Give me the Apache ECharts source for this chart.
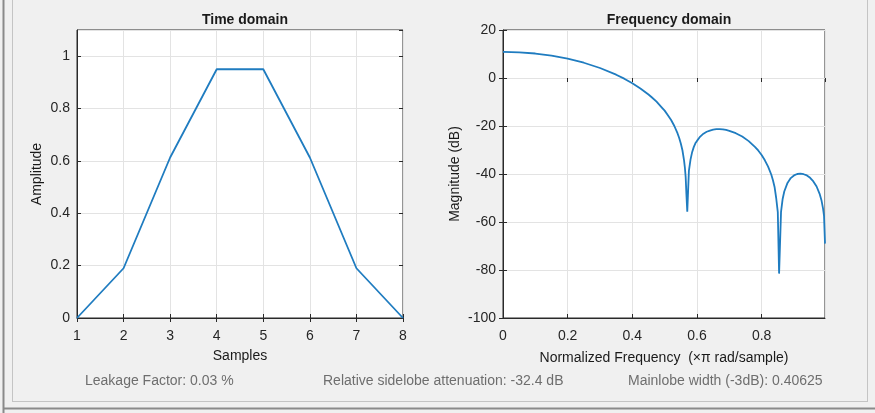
<!DOCTYPE html>
<html>
<head>
<meta charset="utf-8">
<script src="https://cdn.jsdelivr.net/npm/echarts@6/dist/echarts.min.js"></script>
<style>
  html, body { margin: 0; padding: 0; background: #f0f0f0; }
  #chart { width: 875px; height: 413px; }
</style>
</head>
<body>
<div id="chart"></div>
<script>
// time domain window samples
const samples = [1, 2, 3, 4, 5, 6, 7, 8];
const amplitude = [0, 0.19, 0.613, 0.95, 0.95, 0.613, 0.19, 0];

// frequency response
const normFreq = [0, 0.05, 0.1, 0.15, 0.2, 0.25, 0.3, 0.35, 0.375, 0.4, 0.425, 0.45, 0.46, 0.475, 0.49, 0.5,
  0.51, 0.52, 0.53, 0.54, 0.545, 0.55, 0.555, 0.56, 0.5625, 0.565, 0.5675, 0.57,
  0.575, 0.58, 0.585, 0.59, 0.595, 0.6, 0.61, 0.62, 0.63, 0.64, 0.65, 0.66, 0.67, 0.68, 0.69, 0.7,
  0.72, 0.74, 0.76, 0.78, 0.79, 0.8, 0.81, 0.82, 0.83, 0.835, 0.84, 0.845, 0.85, 0.854,
  0.86, 0.865, 0.87, 0.88, 0.89, 0.9, 0.91, 0.92, 0.93, 0.94, 0.95, 0.96, 0.97, 0.98, 0.985, 0.99, 0.993, 0.996];
const magnitudeDb = [10.9, 10.7, 10.2, 9.3, 8.05, 6.36, 4.17, 1.38, -0.28, -2.18, -4.35, -6.88, -8.01, -9.85, -12.1, -13.6,
  -15.5, -17.5, -20.0, -23.1, -25.0, -27.3, -30.1, -34.3, -37.2, -41.2, -48.9, -55.7,
  -38.7, -34.0, -30.9, -28.8, -27.2, -26.2, -24.4, -23.2, -22.4, -21.9, -21.5, -21.3, -21.3, -21.4, -21.65, -22.0,
  -23.0, -24.4, -26.3, -28.8, -30.3, -32.1, -34.3, -36.9, -40.3, -42.6, -45.4, -50.0, -55.9, -81.5,
  -55.8, -50.4, -47.3, -43.7, -41.7, -40.6, -40.0, -39.85, -40.1, -40.6, -41.6, -43.1, -45.2, -48.5, -50.9, -54.4, -57.5, -69];

const statusTexts = ['Leakage Factor: 0.03 %', 'Relative sidelobe attenuation: -32.4 dB', 'Mainlobe width (-3dB): 0.40625'];

const font = 'Liberation Sans, Arial, sans-serif';
const lineColor = '#1f7cc0';
const gridColor = '#e3e3e3';
const boxColor = '#2a2a2a';

const chart = echarts.init(document.getElementById('chart'));

function mainAxis(pos, gridIndex, extra) {
  return Object.assign({
    type: 'value',
    gridIndex: gridIndex,
    position: pos,
    axisLine: { show: true, onZero: false, lineStyle: { color: boxColor, width: 1 } },
    axisTick: { show: true, inside: true, length: 4, lineStyle: { color: boxColor } },
    splitLine: { show: true, lineStyle: { color: gridColor, width: 1 } },
    nameLocation: 'middle',
    nameTextStyle: { color: '#1a1a1a', fontFamily: font, fontSize: 14 }
  }, extra);
}

function mirrorAxis(pos, gridIndex, extra) {
  return Object.assign({
    type: 'value',
    gridIndex: gridIndex,
    position: pos,
    axisLine: { show: false },
    axisTick: { show: true, inside: true, length: 4, lineStyle: { color: boxColor } },
    axisLabel: { show: false },
    splitLine: { show: false }
  }, extra);
}

const tickFont = { color: '#262626', fontFamily: font, fontSize: 14 };

const option = {
  backgroundColor: '#f0f0f0',
  animation: false,
  title: [
    { text: 'Time domain', left: 240, top: 8, textAlign: 'center',
      textStyle: { fontFamily: font, fontSize: 14, fontWeight: 'bold', color: '#1a1a1a' } },
    { text: 'Frequency domain', left: 664, top: 8, textAlign: 'center',
      textStyle: { fontFamily: font, fontSize: 14, fontWeight: 'bold', color: '#1a1a1a' } }
  ],
  grid: [
    { left: 77, right: 472, top: 30, bottom: 95, show: true, backgroundColor: '#ffffff', borderColor: boxColor, borderWidth: 1 },
    { left: 503, right: 50, top: 30, bottom: 95, show: true, backgroundColor: '#ffffff', borderColor: boxColor, borderWidth: 1 }
  ],
  xAxis: [
    mainAxis('bottom', 0, { min: 1, max: 8, interval: 1, name: 'Samples', nameGap: 31,
      axisLabel: Object.assign({ margin: 11 }, tickFont) }),
    mirrorAxis('top', 0, { min: 1, max: 8, interval: 1 }),
    mainAxis('bottom', 1, { min: 0, max: 0.996, interval: 0.2, name: 'Normalized Frequency  (\u00d7\u03c0 rad/sample)', nameGap: 33,
      axisLabel: Object.assign({ margin: 11, showMaxLabel: false }, tickFont) }),
    mirrorAxis('top', 1, { min: 0, max: 0.996, interval: 0.2 })
  ],
  yAxis: [
    mainAxis('left', 0, { min: 0, max: 1.1, interval: 0.2, name: 'Amplitude', nameGap: 33,
      axisLabel: Object.assign({ margin: 7, showMaxLabel: false }, tickFont) }),
    mirrorAxis('right', 0, { min: 0, max: 1.1, interval: 0.2 }),
    mainAxis('left', 1, { min: -100, max: 20, interval: 20, name: 'Magnitude (dB)', nameGap: 41,
      axisLabel: Object.assign({ margin: 7 }, tickFont) }),
    mirrorAxis('right', 1, { min: -100, max: 20, interval: 20 })
  ],
  series: [
    { type: 'line', xAxisIndex: 0, yAxisIndex: 0, showSymbol: false, silent: true,
      lineStyle: { color: lineColor, width: 1.8 },
      data: samples.map((s, i) => [s, amplitude[i]]) },
    { type: 'line', xAxisIndex: 2, yAxisIndex: 2, showSymbol: false, silent: true,
      lineStyle: { color: lineColor, width: 1.8 },
      data: normFreq.map((f, i) => [f, magnitudeDb[i]]) }
  ],
  graphic: [
    // panel frame
    { type: 'line', shape: { x1: 3.5, y1: 0, x2: 3.5, y2: 413 }, style: { stroke: '#8a8a8a', lineWidth: 2 } },
    { type: 'line', shape: { x1: 12.5, y1: 0, x2: 12.5, y2: 402 }, style: { stroke: '#c4c4c4', lineWidth: 1 } },
    { type: 'line', shape: { x1: 12.5, y1: 401.5, x2: 867.5, y2: 401.5 }, style: { stroke: '#c4c4c4', lineWidth: 1 } },
    { type: 'line', shape: { x1: 867.5, y1: 0, x2: 867.5, y2: 402 }, style: { stroke: '#c4c4c4', lineWidth: 1 } },
    { type: 'line', shape: { x1: 3, y1: 408.5, x2: 875, y2: 408.5 }, style: { stroke: '#8a8a8a', lineWidth: 2 } },
    { type: 'text', left: 85, top: 374, style: { text: statusTexts[0], fill: '#6e6e6e', font: '14px ' + font } },
    { type: 'text', left: 323, top: 374, style: { text: statusTexts[1], fill: '#6e6e6e', font: '14px ' + font } },
    { type: 'text', left: 628, top: 374, style: { text: statusTexts[2], fill: '#6e6e6e', font: '14px ' + font } }
  ]
};

chart.setOption(option);
</script>
</body>
</html>
